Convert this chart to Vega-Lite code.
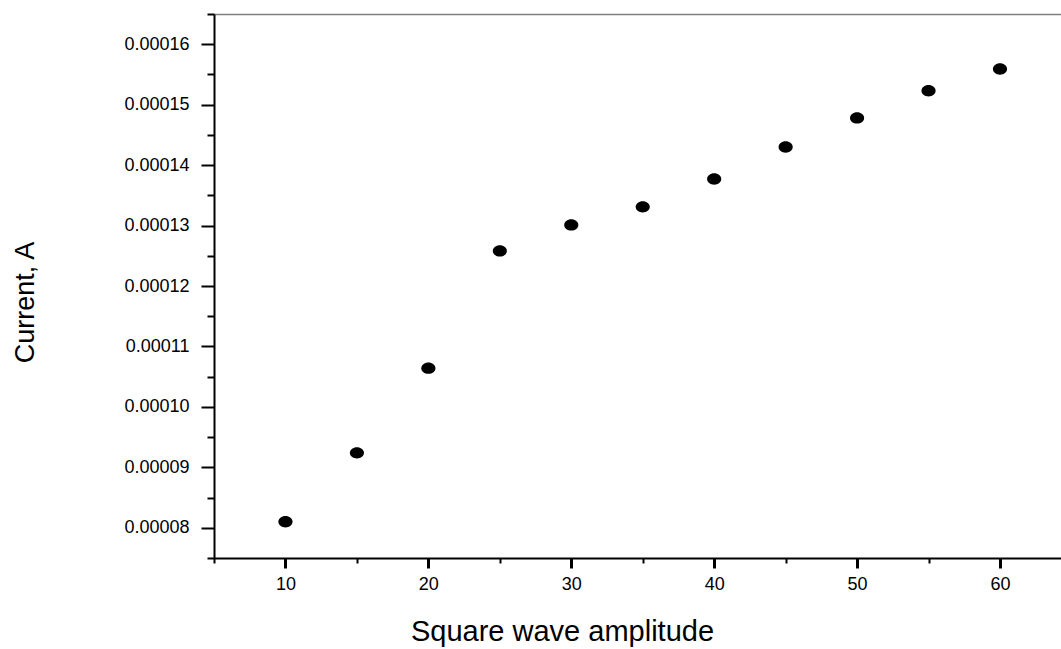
{
  "$schema": "https://vega.github.io/schema/vega-lite/v6.json",
  "width": 847,
  "height": 544,
  "autosize": {"type": "none"},
  "padding": {"left": 214, "top": 14, "right": 0, "bottom": 91},
  "background": "white",
  "config": {
    "view": {"stroke": null},
    "font": "Liberation Sans",
    "axis": {"labelFont": "Liberation Sans", "titleFont": "Liberation Sans", "labelColor": "black", "titleColor": "black", "grid": false, "domainColor": "black", "tickColor": "black", "titleFontWeight": "normal"}
  },
  "data": {
    "values": [
      {"amp": 10, "current": 0.0000810},
      {"amp": 15, "current": 0.0000924},
      {"amp": 20, "current": 0.0001064},
      {"amp": 25, "current": 0.0001258},
      {"amp": 30, "current": 0.0001301},
      {"amp": 35, "current": 0.0001331},
      {"amp": 40, "current": 0.0001377},
      {"amp": 45, "current": 0.0001430},
      {"amp": 50, "current": 0.0001478},
      {"amp": 55, "current": 0.0001523},
      {"amp": 60, "current": 0.0001559}
    ]
  },
  "resolve": {"axis": {"x": "independent", "y": "independent"}},
  "layer": [
    {
      "mark": {"type": "point", "opacity": 0},
      "encoding": {
        "x": {"field": "amp", "type": "quantitative", "scale": {"domain": [5, 64.27], "nice": false, "zero": false},
          "axis": {"orient": "bottom", "values": [5, 15, 25, 35, 45, 55], "labels": false, "domain": false, "tickSize": 5, "tickWidth": 2, "title": null}},
        "y": {"field": "current", "type": "quantitative", "scale": {"domain": [0.000075, 0.000165], "nice": false, "zero": false},
          "axis": {"orient": "left", "values": [0.000075, 0.000085, 0.000095, 0.000105, 0.000115, 0.000125, 0.000135, 0.000145, 0.000155, 0.000165], "labels": false, "domain": false, "tickSize": 7, "tickWidth": 2, "title": null}}
      }
    },
    {
      "mark": {"type": "point", "opacity": 0},
      "encoding": {
        "x": {"field": "amp", "type": "quantitative",
          "axis": {"orient": "top", "labels": false, "ticks": false, "domain": true, "domainColor": "#808080", "domainWidth": 1.5, "title": null}},
        "y": {"field": "current", "type": "quantitative", "axis": null}
      }
    },
    {
      "mark": {"type": "point", "filled": true, "color": "black", "opacity": 1, "strokeWidth": 0,
        "shape": "M -1 0 A 1 0.8 0 1 1 1 0 A 1 0.8 0 1 1 -1 0 Z", "size": 200},
      "encoding": {
        "x": {"field": "amp", "type": "quantitative",
          "axis": {"orient": "bottom", "values": [10, 20, 30, 40, 50, 60], "tickSize": 10, "tickWidth": 3, "domainWidth": 2, "labelFontSize": 18, "labelPadding": 7,
            "title": "Square wave amplitude", "titleFontSize": 29, "titleAlign": "center", "titleBaseline": "alphabetic", "titleX": 348, "titleY": 82}},
        "y": {"field": "current", "type": "quantitative",
          "axis": {"orient": "left", "values": [0.00008, 0.00009, 0.0001, 0.00011, 0.00012, 0.00013, 0.00014, 0.00015, 0.00016], "format": ".5f", "tickSize": 13, "tickWidth": 2, "domainWidth": 2, "labelFontSize": 18, "labelPadding": 12,
            "title": "Current, A", "titleFontSize": 27, "titleAngle": -90, "titleAlign": "center", "titleBaseline": "alphabetic", "titleX": -181, "titleY": 288}}
      }
    }
  ]
}
